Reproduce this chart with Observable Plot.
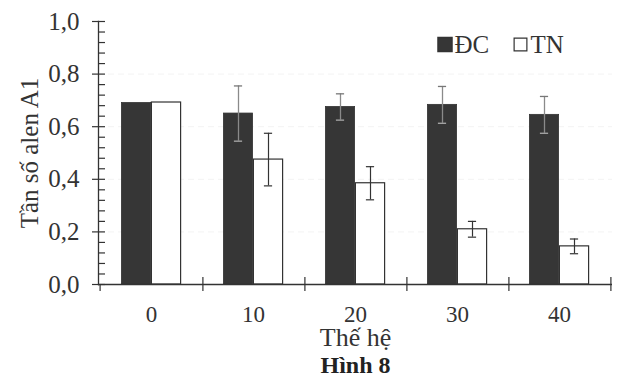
<!DOCTYPE html>
<html>
<head>
<meta charset="utf-8">
<script src="https://cdn.jsdelivr.net/npm/d3@7"></script>
<script src="https://cdn.jsdelivr.net/npm/@observablehq/plot@0.6"></script>
<style>
  body { margin: 0; background: #fff; }
</style>
</head>
<body>
<div id="chart"></div>
<script>
const generations = ["0", "10", "20", "30", "40"];
const dcValues = [0.69, 0.65, 0.675, 0.683, 0.645];
const dcErrors = [0, 0.105, 0.05, 0.07, 0.07];
const tnValues = [0.692, 0.475, 0.385, 0.21, 0.145];
const tnErrors = [0, 0.1, 0.063, 0.03, 0.028];
const yMajorTicks = [0, 0.2, 0.4, 0.6, 0.8, 1.0];
const yMinorTicks = [0.04, 0.08, 0.12, 0.16, 0.24, 0.28, 0.32, 0.36, 0.44, 0.48, 0.52, 0.56, 0.64, 0.68, 0.72, 0.76, 0.84, 0.88, 0.92, 0.96];
const seriesNames = ["ĐC", "TN"];
const yLabel = "Tần số alen A1";
const xLabel = "Thế hệ";
const figLabel = "Hình 8";

const W = 627, H = 385;
const mL = 98, mR = 15, mT = 21, mB = 101;
const plotW = W - mL - mR, plotH = H - mT - mB;
const bw = plotW / generations.length;
const half = bw / 2;
const barW = 30;
const capHalf = 4.5;
const ink = "#333";
const darkFill = "#363636";

const dc = generations.map((g, i) => ({gen: g, value: dcValues[i], err: dcErrors[i]}));
const tn = generations.map((g, i) => ({gen: g, value: tnValues[i], err: tnErrors[i]}));
const dcE = dc.filter(d => d.err > 0);
const tnE = tn.filter(d => d.err > 0);

const chart = Plot.plot({
  width: W, height: H,
  marginLeft: mL, marginRight: mR, marginTop: mT, marginBottom: mB,
  style: {fontFamily: "Liberation Serif, Times New Roman, serif", color: ink, background: "#fff", fontSize: "24px"},
  x: {type: "band", domain: generations, padding: 0},
  y: {domain: [0, 1]},
  marks: [
    Plot.ruleY([0.2, 0.4, 0.6, 0.8], {stroke: "#f3f3f3", strokeDasharray: "6,4"}),
    // bars
    Plot.barY(dc, {x: "gen", y: "value", fill: darkFill, stroke: ink, strokeWidth: 0.8,
      insetLeft: half - barW, insetRight: half}),
    Plot.barY(tn, {x: "gen", y: "value", fill: "white", stroke: ink, strokeWidth: 1.2,
      insetLeft: half, insetRight: half - barW}),
    // error bars DC
    Plot.ruleX(dcE, {x: "gen", y1: d => d.value - d.err, y2: d => d.value + d.err, dx: -barW / 2, stroke: "#8a8a8a", strokeWidth: 1.3}),
    Plot.tickY(dcE, {x: "gen", y: d => d.value + d.err, stroke: "#777", strokeWidth: 1.3,
      insetLeft: half - barW / 2 - capHalf, insetRight: half + barW / 2 - capHalf}),
    Plot.tickY(dcE, {x: "gen", y: d => d.value - d.err, stroke: "#aaa", strokeWidth: 1.3,
      insetLeft: half - barW / 2 - capHalf, insetRight: half + barW / 2 - capHalf}),
    // error bars TN
    Plot.ruleX(tnE, {x: "gen", y1: d => d.value - d.err, y2: d => d.value + d.err, dx: barW / 2, stroke: ink, strokeWidth: 1.2}),
    Plot.tickY(tnE, {x: "gen", y: d => d.value + d.err, stroke: ink, strokeWidth: 1.2,
      insetLeft: half + barW / 2 - capHalf, insetRight: half - barW / 2 - capHalf}),
    Plot.tickY(tnE, {x: "gen", y: d => d.value - d.err, stroke: ink, strokeWidth: 1.2,
      insetLeft: half + barW / 2 - capHalf, insetRight: half - barW / 2 - capHalf}),
    // axes lines
    Plot.frame({anchor: "left", stroke: ink, strokeWidth: 1.3}),
    Plot.ruleY([0], {stroke: ink, strokeWidth: 1.3}),
    // y ticks inside
    Plot.tickY(yMinorTicks, {y: d => d, stroke: ink, strokeWidth: 1.2, insetRight: plotW - 7}),
    Plot.tickY(yMajorTicks, {y: d => d, stroke: ink, strokeWidth: 1.2, insetRight: plotW - 7}),
    Plot.axisY({ticks: yMajorTicks, tickFormat: d => d.toFixed(1).replace(".", ","), tickSize: 6, tickPadding: 13, fontSize: 25,
      label: yLabel, labelAnchor: "center", labelArrow: "none", labelOffset: 78, stroke: ink, strokeWidth: 1.2, fill: ink}),
    // x boundary ticks
    Plot.ruleX(generations, {x: d => d, dx: half, insetTop: plotH - 7, insetBottom: -7, stroke: ink, strokeWidth: 1.2}),
    Plot.ruleX([generations[0]], {x: d => d, dx: -half, insetTop: plotH, insetBottom: -7, stroke: ink, strokeWidth: 1.2}),
    Plot.axisX({tickSize: 0, tickPadding: 21, fontSize: 23, label: null, fill: ink}),
    // labels
    Plot.text([xLabel], {text: d => d, frameAnchor: "bottom", dy: 61, fontSize: 26, fill: ink}),
    Plot.text([figLabel], {text: d => d, frameAnchor: "bottom", dy: 88, fontSize: 24, fontWeight: "bold", fill: "#222"}),
    // legend
    Plot.dot([seriesNames[0]], {frameAnchor: "top-left", dx: 346.5, dy: 23, symbol: "square", r: 7.9, fill: darkFill, stroke: ink}),
    Plot.text([seriesNames[0]], {text: d => d, frameAnchor: "top-left", dx: 356, dy: 23.5, textAnchor: "start", lineAnchor: "middle", fontSize: 25, fill: ink}),
    Plot.dot([seriesNames[1]], {frameAnchor: "top-left", dx: 422, dy: 23, symbol: "square", r: 7.2, fill: "white", stroke: ink, strokeWidth: 1.2}),
    Plot.text([seriesNames[1]], {text: d => d, frameAnchor: "top-left", dx: 432, dy: 23.5, textAnchor: "start", lineAnchor: "middle", fontSize: 25, fill: ink})
  ]
});
document.getElementById("chart").appendChild(chart);
</script>
</body>
</html>
